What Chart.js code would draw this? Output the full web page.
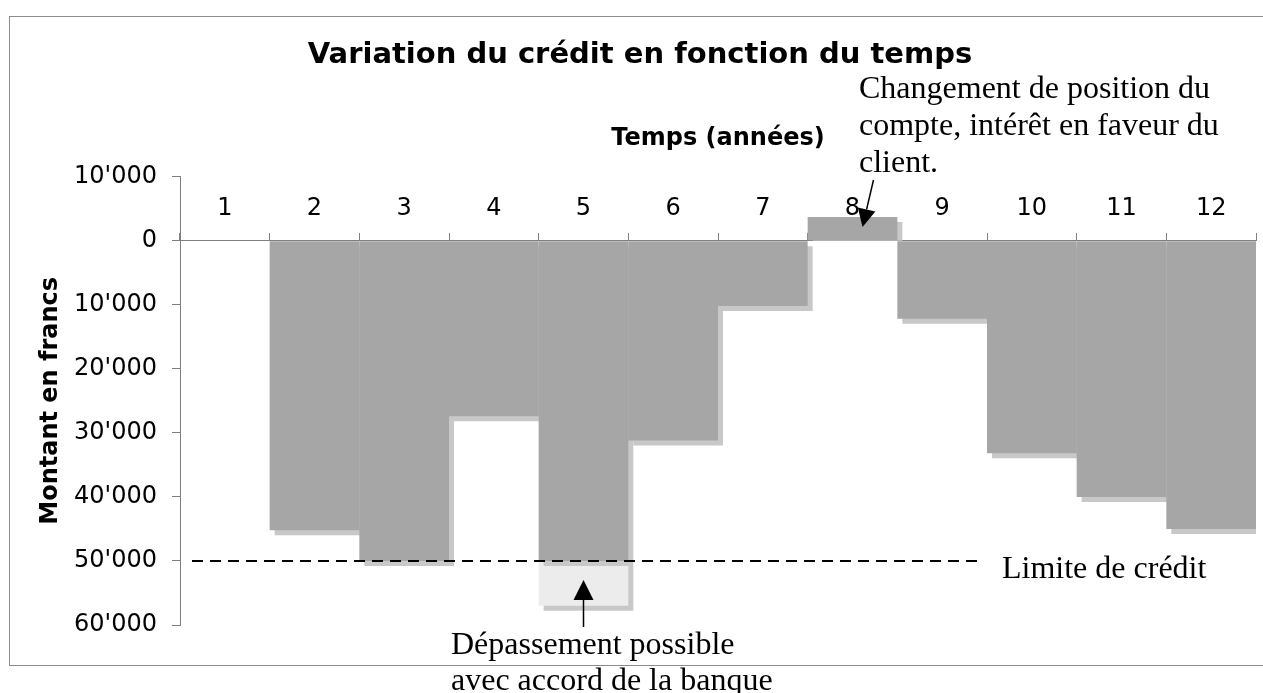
<!DOCTYPE html>
<html>
<head>
<meta charset="utf-8">
<script src="https://cdn.jsdelivr.net/npm/chart.js@4.4.1/dist/chart.umd.min.js"></script>
<style>
  body { margin: 0; background: #fff; overflow: hidden; }
  #frame { position: absolute; left: 9px; top: 16px; width: 1300px; height: 648px; border: 1px solid #8c8c8c; }
  #wrap { position: absolute; left: 0; top: 0; width: 1263px; height: 693px; }
</style>
</head>
<body>
<div id="frame"></div>
<div id="wrap"><canvas id="credit"></canvas></div>
<script>
// years (x axis)
const years = ['1', '2', '3', '4', '5', '6', '7', '8', '9', '10', '11', '12'];
// account balance per year, negative = credit used
const balance = [0, -45200, -50000, -27400, -50000, -31200, -10200, 3700, -12200, -33200, -40000, -45000];
// overdraft above the limit, only in year 5
const overdraft = [null, null, null, null, -7000, null, null, null, null, null, null, null];
const creditLimit = -50000;
const yMin = -60000, yMax = 10000, yStep = 10000;

const serif = '32px "Liberation Serif", "Times New Roman", serif';
const sans = '"DejaVu Sans", Verdana, sans-serif';

// debit and credit years drawn as two stacked datasets (so the shadow of the
// positive bar can be kept above the zero line)
const debit = balance.map(v => (v < 0 ? v : null));
const credit = balance.map(v => (v > 0 ? v : null));

function fmt(v) {
  return String(Math.abs(v)).replace(/\B(?=(\d{3})+(?!\d))/g, "'");
}

function arrow(ctx, x1, y1, x2, y2, head, half) {
  const a = Math.atan2(y2 - y1, x2 - x1);
  const bx = x2 - head * Math.cos(a), by = y2 - head * Math.sin(a);
  ctx.beginPath();
  ctx.moveTo(x1, y1);
  ctx.lineTo(bx, by);
  ctx.lineWidth = 1.5;
  ctx.stroke();
  ctx.beginPath();
  ctx.moveTo(x2, y2);
  ctx.lineTo(bx + half * Math.sin(a), by - half * Math.cos(a));
  ctx.lineTo(bx - half * Math.sin(a), by + half * Math.cos(a));
  ctx.closePath();
  ctx.fill();
}

const extras = {
  id: 'extras',
  beforeDatasetDraw(chart, args) {
    // drop shadow under the bars
    const ctx = chart.ctx;
    const area = chart.chartArea;
    ctx.save();
    if (args.index === 2) {
      const y0 = chart.scales.y.getPixelForValue(0);
      ctx.beginPath();
      ctx.rect(area.left, area.top, area.right - area.left + 10, y0 - area.top);
      ctx.clip();
    }
    ctx.shadowColor = '#c8c8c8';
    ctx.shadowOffsetX = 5;
    ctx.shadowOffsetY = 5;
    ctx.shadowBlur = 0;
  },
  afterDatasetDraw(chart) {
    chart.ctx.restore();
  },
  afterDatasetsDraw(chart) {
    const ctx = chart.ctx;
    const x = chart.scales.x, y = chart.scales.y;
    const yl = y.getPixelForValue(creditLimit);
    ctx.save();
    ctx.strokeStyle = '#000';
    ctx.lineWidth = 2;
    ctx.setLineDash([11, 7]);
    ctx.beginPath();
    ctx.moveTo(x.left + 12, yl);
    ctx.lineTo((x.getPixelForValue(8) + x.getPixelForValue(9)) / 2 - 5, yl);
    ctx.stroke();
    ctx.restore();
  },
  afterDraw(chart) {
    const ctx = chart.ctx;
    const x = chart.scales.x, y = chart.scales.y;
    ctx.save();
    ctx.fillStyle = '#000';
    ctx.strokeStyle = '#000';
    ctx.font = serif;
    ctx.textBaseline = 'alphabetic';
    ctx.textAlign = 'left';

    ctx.fillText('Changement de position du', 859, 98);
    ctx.fillText('compte, intérêt en faveur du', 859, 135);
    ctx.fillText('client.', 859, 172);
    const x8 = x.getPixelForValue(7);
    arrow(ctx, x8 + 21, 180, x8 + 10, y.getPixelForValue(balance[7]) + 10, 18, 9);

    const yl = y.getPixelForValue(creditLimit);
    ctx.fillText('Limite de crédit', 1002, yl + 17);

    const x5 = x.getPixelForValue(4);
    arrow(ctx, x5, 627, x5, yl + 19, 20, 10);
    ctx.fillText('Dépassement possible', 451, 654);
    ctx.fillText('avec accord de la banque', 451, 690);
    ctx.restore();
  }
};

const barStyle = {
  borderWidth: 0,
  inflateAmount: 0,
  categoryPercentage: 1,
  barPercentage: 1
};

const ctx = document.getElementById('credit');

new Chart(ctx, {
  type: 'bar',
  data: {
    labels: years,
    datasets: [
      Object.assign({ label: 'Crédit utilisé', data: debit, backgroundColor: '#a6a6a6' }, barStyle),
      Object.assign({ label: 'Dépassement', data: overdraft, backgroundColor: '#ececec' }, barStyle),
      Object.assign({ label: 'Avoir', data: credit, backgroundColor: '#a6a6a6' }, barStyle)
    ]
  },
  options: {
    responsive: true,
    maintainAspectRatio: false,
    animation: false,
    layout: { padding: { left: 24, right: 7, top: 0, bottom: 68 } },
    plugins: {
      legend: { display: false },
      tooltip: { enabled: false },
      title: {
        display: true,
        text: 'Variation du crédit en fonction du temps',
        color: '#000',
        font: { family: sans, size: 29, weight: 'bold' },
        padding: { top: 38, bottom: 3 }
      }
    },
    scales: {
      x: {
        stacked: true,
        position: { y: 0 },
        z: 1,
        grid: { drawOnChartArea: false, drawTicks: true, tickLength: -8, color: '#808080' },
        border: { color: '#808080', width: 1 },
        ticks: { color: '#000', font: { family: sans, size: 24 }, padding: -38, maxRotation: 0 }
      },
      x2: {
        type: 'category',
        position: 'top',
        grid: { display: false },
        border: { display: false },
        ticks: { display: false },
        title: {
          display: true,
          text: 'Temps (années)',
          color: '#000',
          font: { family: sans, size: 24, weight: 'bold' },
          padding: { top: 49, bottom: 15 }
        }
      },
      y: {
        stacked: true,
        min: yMin,
        max: yMax,
        afterFit: s => { s.width = 156; },
        grid: { drawOnChartArea: false, drawTicks: true, tickLength: 8, color: '#808080' },
        border: { color: '#808080', width: 1 },
        title: {
          display: true,
          text: 'Montant en francs',
          color: '#000',
          font: { family: sans, size: 24, weight: 'bold' },
          padding: { top: 12, bottom: 0 }
        },
        ticks: {
          stepSize: yStep,
          color: '#000',
          padding: 15,
          font: { family: sans, size: 24 },
          callback: v => fmt(v)
        }
      }
    }
  },
  plugins: [extras]
});
</script>
</body>
</html>
